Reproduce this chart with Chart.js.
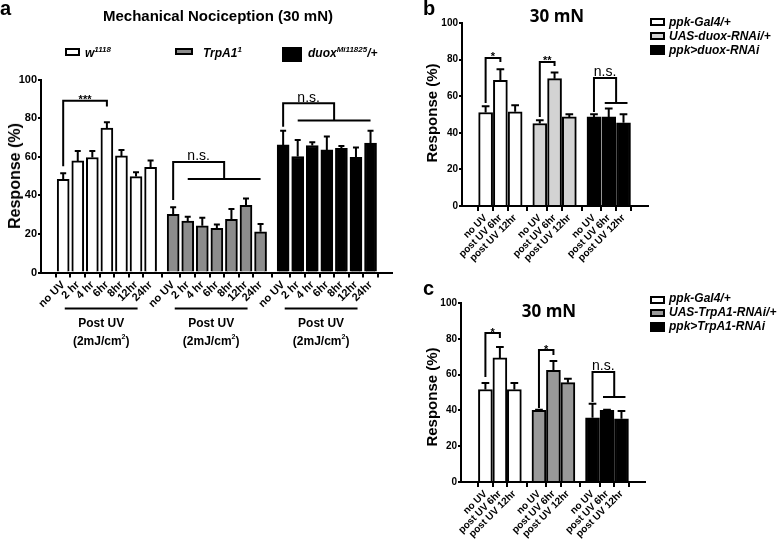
<!DOCTYPE html>
<html>
<head>
<meta charset="utf-8">
<script src="https://cdn.jsdelivr.net/npm/chart.js@4.4.1/dist/chart.umd.min.js"></script>
<style>
  body { margin: 0; background: #fff; }
  #fig { position: relative; width: 778px; height: 543px; overflow: hidden; background: #fff;
         font-family: "Liberation Sans", Arial, sans-serif; color: #000; }
  canvas { position: absolute; }
  .t { position: absolute; white-space: nowrap; line-height: 1; font-weight: bold; }
  .c { transform: translateX(-50%); }
  .ytitle { position: absolute; white-space: nowrap; line-height: 1; font-weight: bold;
            transform: translate(-50%, -50%) rotate(-90deg); }
  .lg { font-style: italic; font-size: 12px; }
  .box { position: absolute; box-sizing: border-box; border: 2px solid #000; }
  .sup { font-size: 8px; position: relative; top: -5px; }
  .mn { font-family: "Open Sans", "DejaVu Sans", sans-serif; font-size: 17px; }
</style>
</head>
<body>
<div id="fig">
  <canvas id="chartA" width="420" height="360" style="left:0;top:0"></canvas>
  <canvas id="chartB" width="358" height="270" style="left:420px;top:0"></canvas>
  <canvas id="chartC" width="358" height="273" style="left:420px;top:270px"></canvas>

  <!-- panel a -->
  <div class="t" style="left:0;top:-2px;font-size:20px">a</div>
  <div class="t c" style="left:218px;top:8px;font-size:15px">Mechanical Nociception (30 mN)</div>
  <div class="box" style="left:65px;top:48px;width:15px;height:8px;background:#fff"></div>
  <div class="t lg" style="left:85px;top:47px">w<span class="sup">1118</span></div>
  <div class="box" style="left:175px;top:48px;width:18px;height:7px;background:#8c8c8c"></div>
  <div class="t lg" style="left:203px;top:47px">TrpA1<span class="sup">1</span></div>
  <div class="box" style="left:282px;top:47px;width:20px;height:15px;background:#000"></div>
  <div class="t lg" style="left:308px;top:47px">duox<span class="sup">Mi11825</span>/+</div>
  <div class="ytitle" style="left:15px;top:176px;font-size:16px">Response (%)</div>

  <!-- panel b -->
  <div class="t" style="left:423px;top:-2px;font-size:20px">b</div>
  <div class="t c mn" style="left:557px;top:7px">30 mN</div>
  <div class="ytitle" style="left:431px;top:113px;font-size:15px">Response (%)</div>
  <div class="box" style="left:650px;top:18px;width:15px;height:8px;background:#fff"></div>
  <div class="t lg" style="left:669px;top:16px">ppk-Gal4/+</div>
  <div class="box" style="left:650px;top:32px;width:15px;height:8px;background:#d3d3d3"></div>
  <div class="t lg" style="left:669px;top:30px">UAS-duox-RNAi/+</div>
  <div class="box" style="left:650px;top:45px;width:15px;height:10px;background:#000"></div>
  <div class="t lg" style="left:669px;top:44px">ppk&gt;duox-RNAi</div>

  <!-- panel c -->
  <div class="t" style="left:423px;top:278px;font-size:20px">c</div>
  <div class="t c mn" style="left:549px;top:302px">30 mN</div>
  <div class="ytitle" style="left:431px;top:397px;font-size:15px">Response (%)</div>
  <div class="box" style="left:650px;top:296px;width:15px;height:8px;background:#fff"></div>
  <div class="t lg" style="left:669px;top:292px">ppk-Gal4/+</div>
  <div class="box" style="left:650px;top:309px;width:15px;height:8px;background:#999"></div>
  <div class="t lg" style="left:669px;top:306px">UAS-TrpA1-RNAi/+</div>
  <div class="box" style="left:650px;top:322px;width:15px;height:10px;background:#000"></div>
  <div class="t lg" style="left:669px;top:320px">ppk&gt;TrpA1-RNAi</div>
</div>

<script>
// ---- data ----
var yTicks = [0, 20, 40, 60, 80, 100];

// panel a
var timesA = ['no UV', '2 hr', '4 hr', '6hr', '8hr', '12hr', '24hr'];
var w1118 = [48.3, 57.8, 59.6, 74.8, 60.4, 49.7, 54.5];
var w1118Err = [3.1, 5.2, 3.3, 3.1, 3.1, 2.2, 3.5];
var trpA1 = [30.1, 26.7, 24.2, 22.9, 27.5, 34.8, 21.1];
var trpA1Err = [3.7, 2.2, 4.2, 2.0, 5.4, 3.5, 4.0];
var duoxMi = [66.1, 60.1, 65.8, 63.5, 64.4, 59.7, 67.0];
var duoxMiErr = [7.3, 8.6, 1.7, 7.0, 1.2, 5.1, 6.4];
var postLabel = 'Post UV';
var doseLabel = ['(2mJ/cm', '2', ')'];

// panels b and c
var timesBC = ['no UV', 'post UV 6hr', 'post UV 12hr'];
var ppkGal4B = [51.1, 68.7, 51.5];
var ppkGal4BErr = [3.4, 6.0, 3.6];
var uasDuox = [45.1, 69.6, 48.7];
var uasDuoxErr = [1.8, 3.3, 1.5];
var ppkDuox = [48.7, 48.7, 45.5];
var ppkDuoxErr = [1.5, 4.6, 4.7];

var ppkGal4C = [51.7, 69.3, 51.7];
var ppkGal4CErr = [3.6, 6.1, 3.6];
var uasTrpA1 = [40.0, 62.4, 55.5];
var uasTrpA1Err = [0.4, 5.2, 2.2];
var ppkTrpA1 = [35.9, 40.0, 35.3];
var ppkTrpA1Err = [7.8, 0.4, 4.3];

var FONT = '"Liberation Sans", Arial, sans-serif';

function makePanel(canvasId, p) {
  function pos(g, i) { return g * p.step + i; }
  var labels = [], ticks = [];
  p.series.forEach(function (s, g) {
    p.categories.forEach(function (c, i) { labels.push(c); ticks.push(pos(g, i)); });
  });

  // error bars (upper half only, like the original)
  var errorBars = {
    id: 'errorBars',
    afterDatasetsDraw: function (chart) {
      var ctx = chart.ctx, ys = chart.scales.y;
      ctx.save();
      ctx.strokeStyle = '#000';
      ctx.lineWidth = 2;
      chart.data.datasets.forEach(function (ds, di) {
        chart.getDatasetMeta(di).data.forEach(function (bar, i) {
          var top = ys.getPixelForValue(ds.data[i].y + ds.errors[i]);
          var half = bar.width * p.cap / 2;
          ctx.beginPath();
          ctx.moveTo(bar.x, bar.y);
          ctx.lineTo(bar.x, top);
          ctx.moveTo(bar.x - half, top);
          ctx.lineTo(bar.x + half, top);
          ctx.stroke();
        });
      });
      ctx.restore();
    }
  };

  // significance brackets
  var brackets = {
    id: 'brackets',
    afterDatasetsDraw: function (chart) {
      var ctx = chart.ctx, xs = chart.scales.x, ys = chart.scales.y;
      ctx.save();
      ctx.strokeStyle = '#000';
      ctx.fillStyle = '#000';
      ctx.lineWidth = 2;
      ctx.textAlign = 'center';
      p.brackets.forEach(function (b) {
        var xl = xs.getPixelForValue(pos(b.g, b.from));
        var xr;
        if (b.line) {
          var a = xs.getPixelForValue(pos(b.g, b.line[0])) - b.ext;
          var c = xs.getPixelForValue(pos(b.g, b.line[1])) + b.ext;
          var yl = ys.getPixelForValue(b.dropR);
          ctx.beginPath(); ctx.moveTo(a, yl); ctx.lineTo(c, yl); ctx.stroke();
          xr = (a + c) / 2;
        } else {
          xr = xs.getPixelForValue(pos(b.g, b.to));
        }
        var yt = ys.getPixelForValue(b.top);
        ctx.beginPath();
        ctx.moveTo(xl, ys.getPixelForValue(b.dropL));
        ctx.lineTo(xl, yt);
        ctx.lineTo(xr, yt);
        ctx.lineTo(xr, ys.getPixelForValue(b.dropR));
        ctx.stroke();
        if (b.text.indexOf('*') >= 0) {
          ctx.font = 'bold 11px ' + FONT;
          ctx.fillText(b.text, (xl + xr) / 2, yt + 2.5);
        } else {
          ctx.font = '14px ' + FONT;
          ctx.fillText(b.text, (xl + xr) / 2, yt - 1.5);
        }
      });
      ctx.restore();
    }
  };

  // "Post UV (2mJ/cm2)" under each group (panel a only)
  var postUv = {
    id: 'postUv',
    afterDraw: function (chart) {
      if (!p.postUv) return;
      var ctx = chart.ctx, xs = chart.scales.x, base = chart.chartArea.bottom;
      ctx.save();
      ctx.strokeStyle = '#000';
      ctx.fillStyle = '#000';
      ctx.lineWidth = 2;
      for (var g = 0; g < p.series.length; g++) {
        var x1 = xs.getPixelForValue(pos(g, 1)) - 13;
        var x2 = xs.getPixelForValue(pos(g, 6)) - 13;
        var cx = (x1 + x2) / 2;
        ctx.beginPath(); ctx.moveTo(x1, base + 36); ctx.lineTo(x2, base + 36); ctx.stroke();
        ctx.textAlign = 'center';
        ctx.font = 'bold 12px ' + FONT;
        ctx.fillText(postLabel, cx, base + 54.5);
        ctx.textAlign = 'left';
        var w0 = ctx.measureText(doseLabel[0]).width;
        var w2 = ctx.measureText(doseLabel[2]).width;
        ctx.font = 'bold 7px ' + FONT;
        var w1 = ctx.measureText(doseLabel[1]).width;
        var sx = cx - (w0 + w1 + w2) / 2;
        ctx.font = 'bold 12px ' + FONT;
        ctx.fillText(doseLabel[0], sx, base + 72);
        ctx.fillText(doseLabel[2], sx + w0 + w1, base + 72);
        ctx.font = 'bold 7px ' + FONT;
        ctx.fillText(doseLabel[1], sx + w0, base + 66);
      }
      ctx.restore();
    }
  };

  return new Chart(document.getElementById(canvasId), {
    type: 'bar',
    data: {
      datasets: p.series.map(function (s, g) {
        return {
          label: s.name,
          data: s.values.map(function (v, i) { return { x: pos(g, i), y: v }; }),
          errors: s.errors,
          backgroundColor: s.color,
          borderColor: '#000',
          borderWidth: 2,
          barThickness: p.barW,
          grouped: false
        };
      })
    },
    options: {
      responsive: false,
      animation: false,
      events: [],
      layout: { padding: { top: p.top, right: p.right, left: 0, bottom: 0 } },
      plugins: { legend: { display: false }, tooltip: { enabled: false } },
      scales: {
        x: {
          type: 'linear',
          min: p.xMin,
          max: p.xMax,
          afterBuildTicks: function (sc) { sc.ticks = ticks.map(function (v) { return { value: v }; }); },
          afterFit: function (sc) { sc.height = p.xAxisH; },
          ticks: {
            autoSkip: false, minRotation: 45, maxRotation: 45, padding: 1, color: '#000',
            font: { family: FONT, size: p.xFont, weight: 'bold' },
            callback: function (v, i) { return labels[i]; }
          },
          grid: { drawOnChartArea: false, tickLength: 5, color: '#000', lineWidth: 2 },
          border: { display: true, color: '#000', width: 2 }
        },
        y: {
          min: 0,
          max: 100,
          afterBuildTicks: function (sc) { sc.ticks = yTicks.map(function (v) { return { value: v }; }); },
          afterFit: function (sc) { sc.width = p.yAxisW; },
          ticks: { padding: 1, color: '#000', font: { family: FONT, size: p.yFont, weight: 'bold' } },
          grid: { drawOnChartArea: false, tickLength: 3, color: '#000', lineWidth: 2 },
          border: { display: true, color: '#000', width: 2 }
        }
      }
    },
    plugins: [errorBars, brackets, postUv]
  });
}

makePanel('chartA', {
  categories: timesA,
  series: [
    { name: 'w1118', values: w1118, errors: w1118Err, color: '#fff' },
    { name: 'TrpA1', values: trpA1, errors: trpA1Err, color: '#8c8c8c' },
    { name: 'duox', values: duoxMi, errors: duoxMiErr, color: '#000' }
  ],
  step: 7.55, xMin: -0.95, xMax: 22.0,
  top: 79.5, right: 28, yAxisW: 41, xAxisH: 87.5,
  barW: 12, cap: 0.5, xFont: 11, yFont: 11, postUv: true,
  brackets: [
    { g: 0, from: 0, to: 3, top: 89, dropL: 55, dropR: 86, text: '***' },
    { g: 1, from: 0, line: [1, 6], ext: 0, top: 57.3, dropL: 37.6, dropR: 48.4, text: 'n.s.' },
    { g: 2, from: 0, line: [1, 6], ext: 0, top: 87.7, dropL: 75.5, dropR: 78.7, text: 'n.s.' }
  ]
});

makePanel('chartB', {
  categories: timesBC,
  series: [
    { name: 'ppk-Gal4/+', values: ppkGal4B, errors: ppkGal4BErr, color: '#fff' },
    { name: 'UAS-duox-RNAi/+', values: uasDuox, errors: uasDuoxErr, color: '#d3d3d3' },
    { name: 'ppk>duox-RNAi', values: ppkDuox, errors: ppkDuoxErr, color: '#000' }
  ],
  step: 3.67, xMin: -0.9, xMax: 10.3,
  top: 23, right: 130, yAxisW: 42, xAxisH: 64,
  barW: 14, cap: 0.55, xFont: 10, yFont: 10, postUv: false,
  brackets: [
    { g: 0, from: 0, to: 1, top: 80.9, dropL: 56.3, dropR: 78.7, text: '*' },
    { g: 1, from: 0, to: 1, top: 78.7, dropL: 48.6, dropR: 76.5, text: '**' },
    { g: 2, from: 0, line: [1, 2], ext: 4, top: 70, dropL: 51.4, dropR: 56.3, text: 'n.s.' }
  ]
});

makePanel('chartC', {
  categories: timesBC,
  series: [
    { name: 'ppk-Gal4/+', values: ppkGal4C, errors: ppkGal4CErr, color: '#fff' },
    { name: 'UAS-TrpA1-RNAi/+', values: uasTrpA1, errors: uasTrpA1Err, color: '#999' },
    { name: 'ppk>TrpA1-RNAi', values: ppkTrpA1, errors: ppkTrpA1Err, color: '#000' }
  ],
  step: 3.7, xMin: -0.98, xMax: 10.32,
  top: 33, right: 133, yAxisW: 41, xAxisH: 61,
  barW: 14, cap: 0.55, xFont: 10, yFont: 10, postUv: false,
  brackets: [
    { g: 0, from: 0, to: 1, top: 83.2, dropL: 58.7, dropR: 80.4, text: '*' },
    { g: 1, from: 0, to: 1, top: 73.7, dropL: 41.3, dropR: 70.9, text: '*' },
    { g: 2, from: 0, line: [1, 2], ext: 4, top: 61.5, dropL: 44.7, dropR: 47.5, text: 'n.s.' }
  ]
});
</script>
</body>
</html>
